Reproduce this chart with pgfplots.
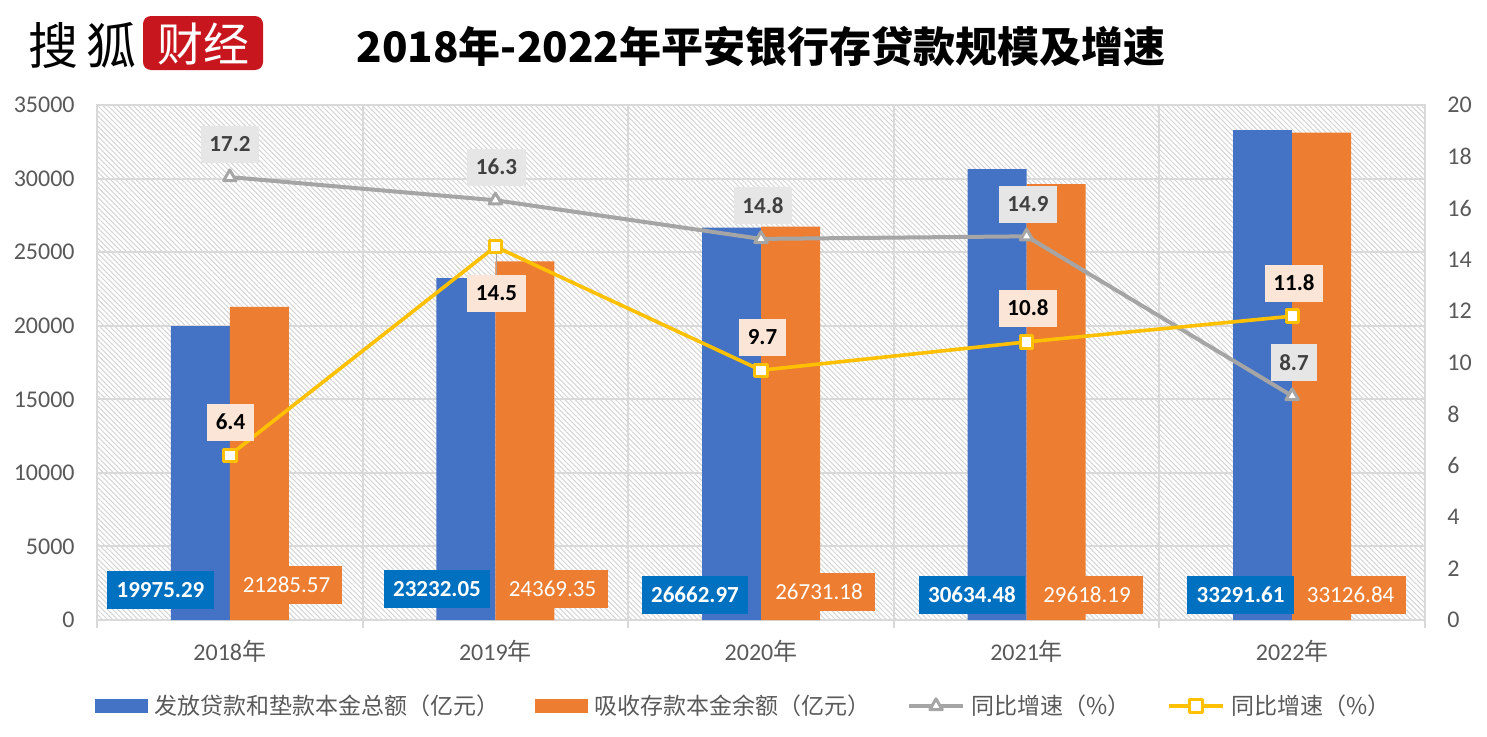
\documentclass[border=0pt]{standalone}
\usepackage{fontspec}
\setmainfont{Carlito}
\newfontfamily\cjk{Noto Sans CJK SC}
\usepackage{pgfplots}
\pgfplotsset{compat=1.18}
\usetikzlibrary{patterns.meta}

\definecolor{cblue}{HTML}{4472C4}
\definecolor{corange}{HTML}{ED7D31}
\definecolor{cgray}{HTML}{A5A5A5}
\definecolor{cyellow}{HTML}{FFC000}
\definecolor{clabblue}{HTML}{0070C0}
\definecolor{cgrid}{HTML}{D9D9D9}
\definecolor{chatch}{HTML}{D4D4D4}
\definecolor{ctext}{HTML}{595959}
\definecolor{cgraylab}{HTML}{E7E6E6}
\definecolor{cgraytext}{HTML}{404040}
\definecolor{cpeach}{HTML}{FBE5D6}
\definecolor{clogo}{HTML}{C8161E}

\pgfplotsset{
  mylinelegend/.style={legend image code/.code={\draw[mark repeat=2,mark phase=2,##1] plot coordinates {(0pt,0pt) (13.5pt,0pt) (27pt,0pt)};}},
  bluelegend/.style={legend image code/.code={\fill[cblue] (0pt,-3.2pt) rectangle (26pt,3.2pt);}},
  orangelegend/.style={legend image code/.code={\fill[corange] (0pt,-3.2pt) rectangle (26pt,3.2pt);}},
}

\begin{document}
\begin{tikzpicture}
\begin{axis}[
  at={(48.5pt,58pt)}, anchor=south west,
  scale only axis, width=664pt, height=257.5pt,
  xmin=-0.5, xmax=4.5, ymin=0, ymax=35000,
  ybar=0pt, bar width=29.5pt,
  axis background/.style={pattern={Lines[angle=-45,distance=1.8pt,line width=0.5pt]}, pattern color=chatch},
  xtick={0,1,2,3,4},
  xticklabels={2018{\cjk 年},2019{\cjk 年},2020{\cjk 年},2021{\cjk 年},2022{\cjk 年}},
  minor xtick={-0.5,0.5,1.5,2.5,3.5,4.5},
  xminorgrids, ymajorgrids,
  grid style={draw=cgrid, line width=1pt},
  minor grid style={draw=cgrid, line width=1pt},
  major tick length=0pt, minor tick length=4pt,
  tick align=outside, xtick pos=left, ytick pos=left,
  tick style={draw=cgrid, line width=1pt},
  axis line style={draw=cgrid, line width=1pt},
  ytick={0,5000,...,35000},
  scaled y ticks=false,
  /pgf/number format/assume math mode=true,
  /pgf/number format/set thousands separator={},
  yticklabel style={font=\fontsize{12}{14}\selectfont, text=ctext, inner sep=0pt, xshift=-11pt},
  xticklabel style={font=\fontsize{12}{14}\selectfont, text=ctext, inner sep=0pt, yshift=-10pt},
]
\addplot[fill=cblue, draw=none] coordinates {(0,19975.29) (1,23232.05) (2,26662.97) (3,30634.48) (4,33291.61)};
\addplot[fill=corange, draw=none] coordinates {(0,21285.57) (1,24369.35) (2,26731.18) (3,29618.19) (4,33126.84)};
\end{axis}

\begin{axis}[
  at={(48.5pt,58pt)}, anchor=south west,
  scale only axis, width=664pt, height=257.5pt,
  xmin=-0.5, xmax=4.5, ymin=0, ymax=20,
  axis y line*=right, axis x line=none,
  ytick={0,2,...,20}, major tick length=0pt,
  axis line style={draw=cgrid, line width=1pt},
  /pgf/number format/assume math mode=true,
  yticklabel style={font=\fontsize{12}{14}\selectfont, text=ctext, inner sep=0pt, anchor=west, xshift=11pt},
  legend style={at={(0.4885,-0.167)}, anchor=center, draw=none, fill=none,
    font=\cjk\fontsize{11.5}{13}\selectfont, text=ctext,
    nodes={inner xsep=3.2pt},
    /tikz/every even column/.append style={column sep=15pt}},
  legend columns=4,
]
\addlegendimage{bluelegend}
\addlegendentry{发放贷款和垫款本金总额（亿元）}
\addlegendimage{orangelegend}
\addlegendentry{吸收存款本金余额（亿元）}
\addplot[draw=cgray, line width=2pt, line join=round, mark=triangle*, mark size=3.6pt,
  mark options={fill=white, draw=cgray, line width=1.5pt, line join=round}, mylinelegend]
  coordinates {(0,17.2) (1,16.3) (2,14.8) (3,14.9) (4,8.7)};
\addlegendentry{同比增速（\%）}
\addplot[draw=cyellow, line width=1.8pt, line join=round, mark=square*, mark size=3.1pt,
  mark options={fill=white, draw=cyellow, line width=1.5pt}, mylinelegend]
  coordinates {(0,6.4) (1,14.5) (2,9.7) (3,10.8) (4,11.8)};
\addlegendentry{同比增速（\%）}
\end{axis}

\begin{scope}[x=0.5pt, y=-0.5pt, yshift=368pt,
  glab/.style={fill=cgraylab, text=cgraytext, font=\fontsize{11.5}{13}\selectfont\bfseries, inner xsep=4.3pt, inner ysep=0pt, minimum height=18.5pt},
  ylab/.style={fill=cpeach, text=black, font=\fontsize{11.5}{13}\selectfont\bfseries, inner xsep=4.3pt, inner ysep=0pt, minimum height=18.5pt},
  blab/.style={fill=clabblue, text=white, font=\fontsize{11.5}{13}\selectfont\bfseries, inner xsep=4.8pt, inner ysep=0pt, minimum height=19pt},
  olab/.style={fill=corange, text=white, font=\fontsize{11.5}{13}\selectfont, inner xsep=6pt, inner ysep=0pt, minimum height=19pt}]
% logo
\node[anchor=west, inner sep=0pt] at (28,45) {\cjk\fontsize{25}{25}\selectfont 搜\hspace{4pt}狐};
\fill[clogo, rounded corners=4pt] (143,16) rectangle (263,70);
\node[text=white, inner sep=0pt] at (203,44) {\cjk\fontsize{23}{23}\selectfont 财经};
% title
\node[inner sep=0pt] at (761,47) {\cjk\bfseries\fontsize{21}{24}\selectfont 2018年-2022年平安银行存贷款规模及增速};
% leader line
\draw[cgray, line width=0.75pt] (496.5,254) -- (496.5,276);
% gray line labels
\node[glab] at (230,144) {17.2};
\node[glab] at (496.5,167) {16.3};
\node[glab] at (763,205.5) {14.8};
\node[glab] at (1028,204) {14.9};
\node[glab] at (1294,362.5) {8.7};
% yellow line labels
\node[ylab] at (230.5,422) {6.4};
\node[ylab] at (496.5,293.5) {14.5};
\node[ylab] at (762.5,337) {9.7};
\node[ylab] at (1028,308) {10.8};
\node[ylab] at (1294,283) {11.8};
% bar labels
\node[blab] at (160.5,590) {19975.29};
\node[blab] at (437,589) {23232.05};
\node[blab] at (695,595) {26662.97};
\node[blab] at (972,595) {30634.48};
\node[blab] at (1240.6,595) {33291.61};
\node[olab] at (286.5,585) {21285.57};
\node[olab] at (552.5,589) {24369.35};
\node[olab] at (819,592) {26731.18};
\node[olab] at (1087,595) {29618.19};
\node[olab] at (1350.6,595) {33126.84};
\pgfresetboundingbox
\useasboundingbox (0,0) rectangle (1487,736);
\end{scope}
\end{tikzpicture}
\end{document}
